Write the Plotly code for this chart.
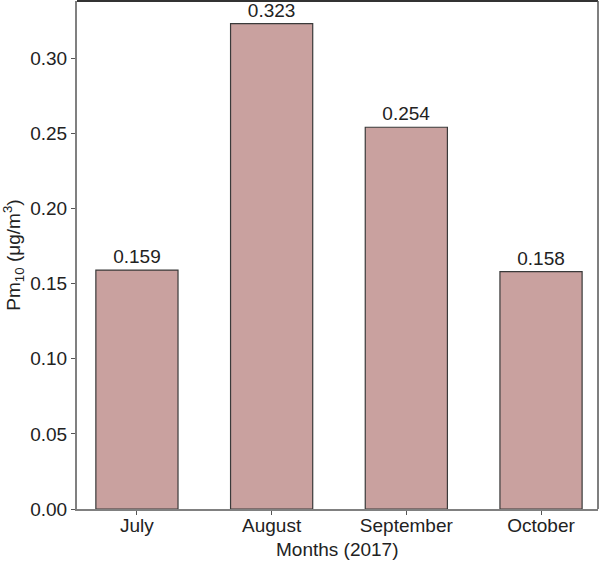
import plotly.graph_objects as go

months = ["July", "August", "September", "October"]
pm10 = [0.159, 0.323, 0.254, 0.158]
labels = ["0.159", "0.323", "0.254", "0.158"]
yticks = [0.00, 0.05, 0.10, 0.15, 0.20, 0.25, 0.30]
x_title = "Months (2017)"
y_title = "Pm<sub>10</sub> (μg/m<sup>3</sup>)"

FONT = "Liberation Sans, Arial, sans-serif"

fig = go.Figure()
fig.add_trace(go.Bar(
    x=list(range(len(months))), y=pm10,
    text=labels, textposition="outside", cliponaxis=False,
    textfont=dict(size=19, color="#222222", family=FONT),
    marker=dict(color="#C9A19F", line=dict(color="#3a3a3a", width=1.2)),
    width=0.61,
))
fig.update_layout(
    width=600, height=565,
    margin=dict(l=77, r=2, t=1, b=56, autoexpand=False),
    plot_bgcolor="white", paper_bgcolor="white",
    font=dict(family=FONT, size=19, color="#222222"),
    showlegend=False,
    uniformtext=dict(minsize=19, mode="show"),
)
fig.update_xaxes(
    range=[-0.445, 3.423], automargin=False,
    tickvals=list(range(len(months))), ticktext=months,
    showline=True, linecolor="#808080", linewidth=2, mirror=False,
    ticks="outside", ticklen=4, tickcolor="#555555",
    ticklabelstandoff=-6,
    showgrid=False, zeroline=False,
    tickfont=dict(size=19),
)
fig.update_yaxes(
    range=[0, 0.338], automargin=False,
    tickvals=yticks, ticktext=[f"{v:.2f}" for v in yticks],
    showline=True, linecolor="#808080", linewidth=2,
    ticks="outside", ticklen=4, tickcolor="#555555",
    showgrid=False, zeroline=False,
    tickfont=dict(size=19),
    title=dict(text=y_title, font=dict(size=19)),
)
fig.add_annotation(text=x_title, xref="paper", yref="paper", x=0.5, y=-0.079,
                   xanchor="center", yanchor="middle", showarrow=False,
                   font=dict(size=19, color="#222222", family=FONT))
# top and right frame lines
fig.add_shape(type="line", xref="paper", yref="paper", x0=0, x1=1, y0=1, y1=1,
              line=dict(color="#333333", width=2))
fig.add_shape(type="line", xref="paper", yref="paper", x0=1, x1=1, y0=0, y1=1,
              line=dict(color="#555555", width=1.5))

post = ("document.body.style.margin='0';document.body.style.padding='0';"
        "document.body.style.overflow='hidden';"
        "document.documentElement.style.overflow='hidden';")
fig.write_html("out.html", post_script=post, config={"displayModeBar": False})
